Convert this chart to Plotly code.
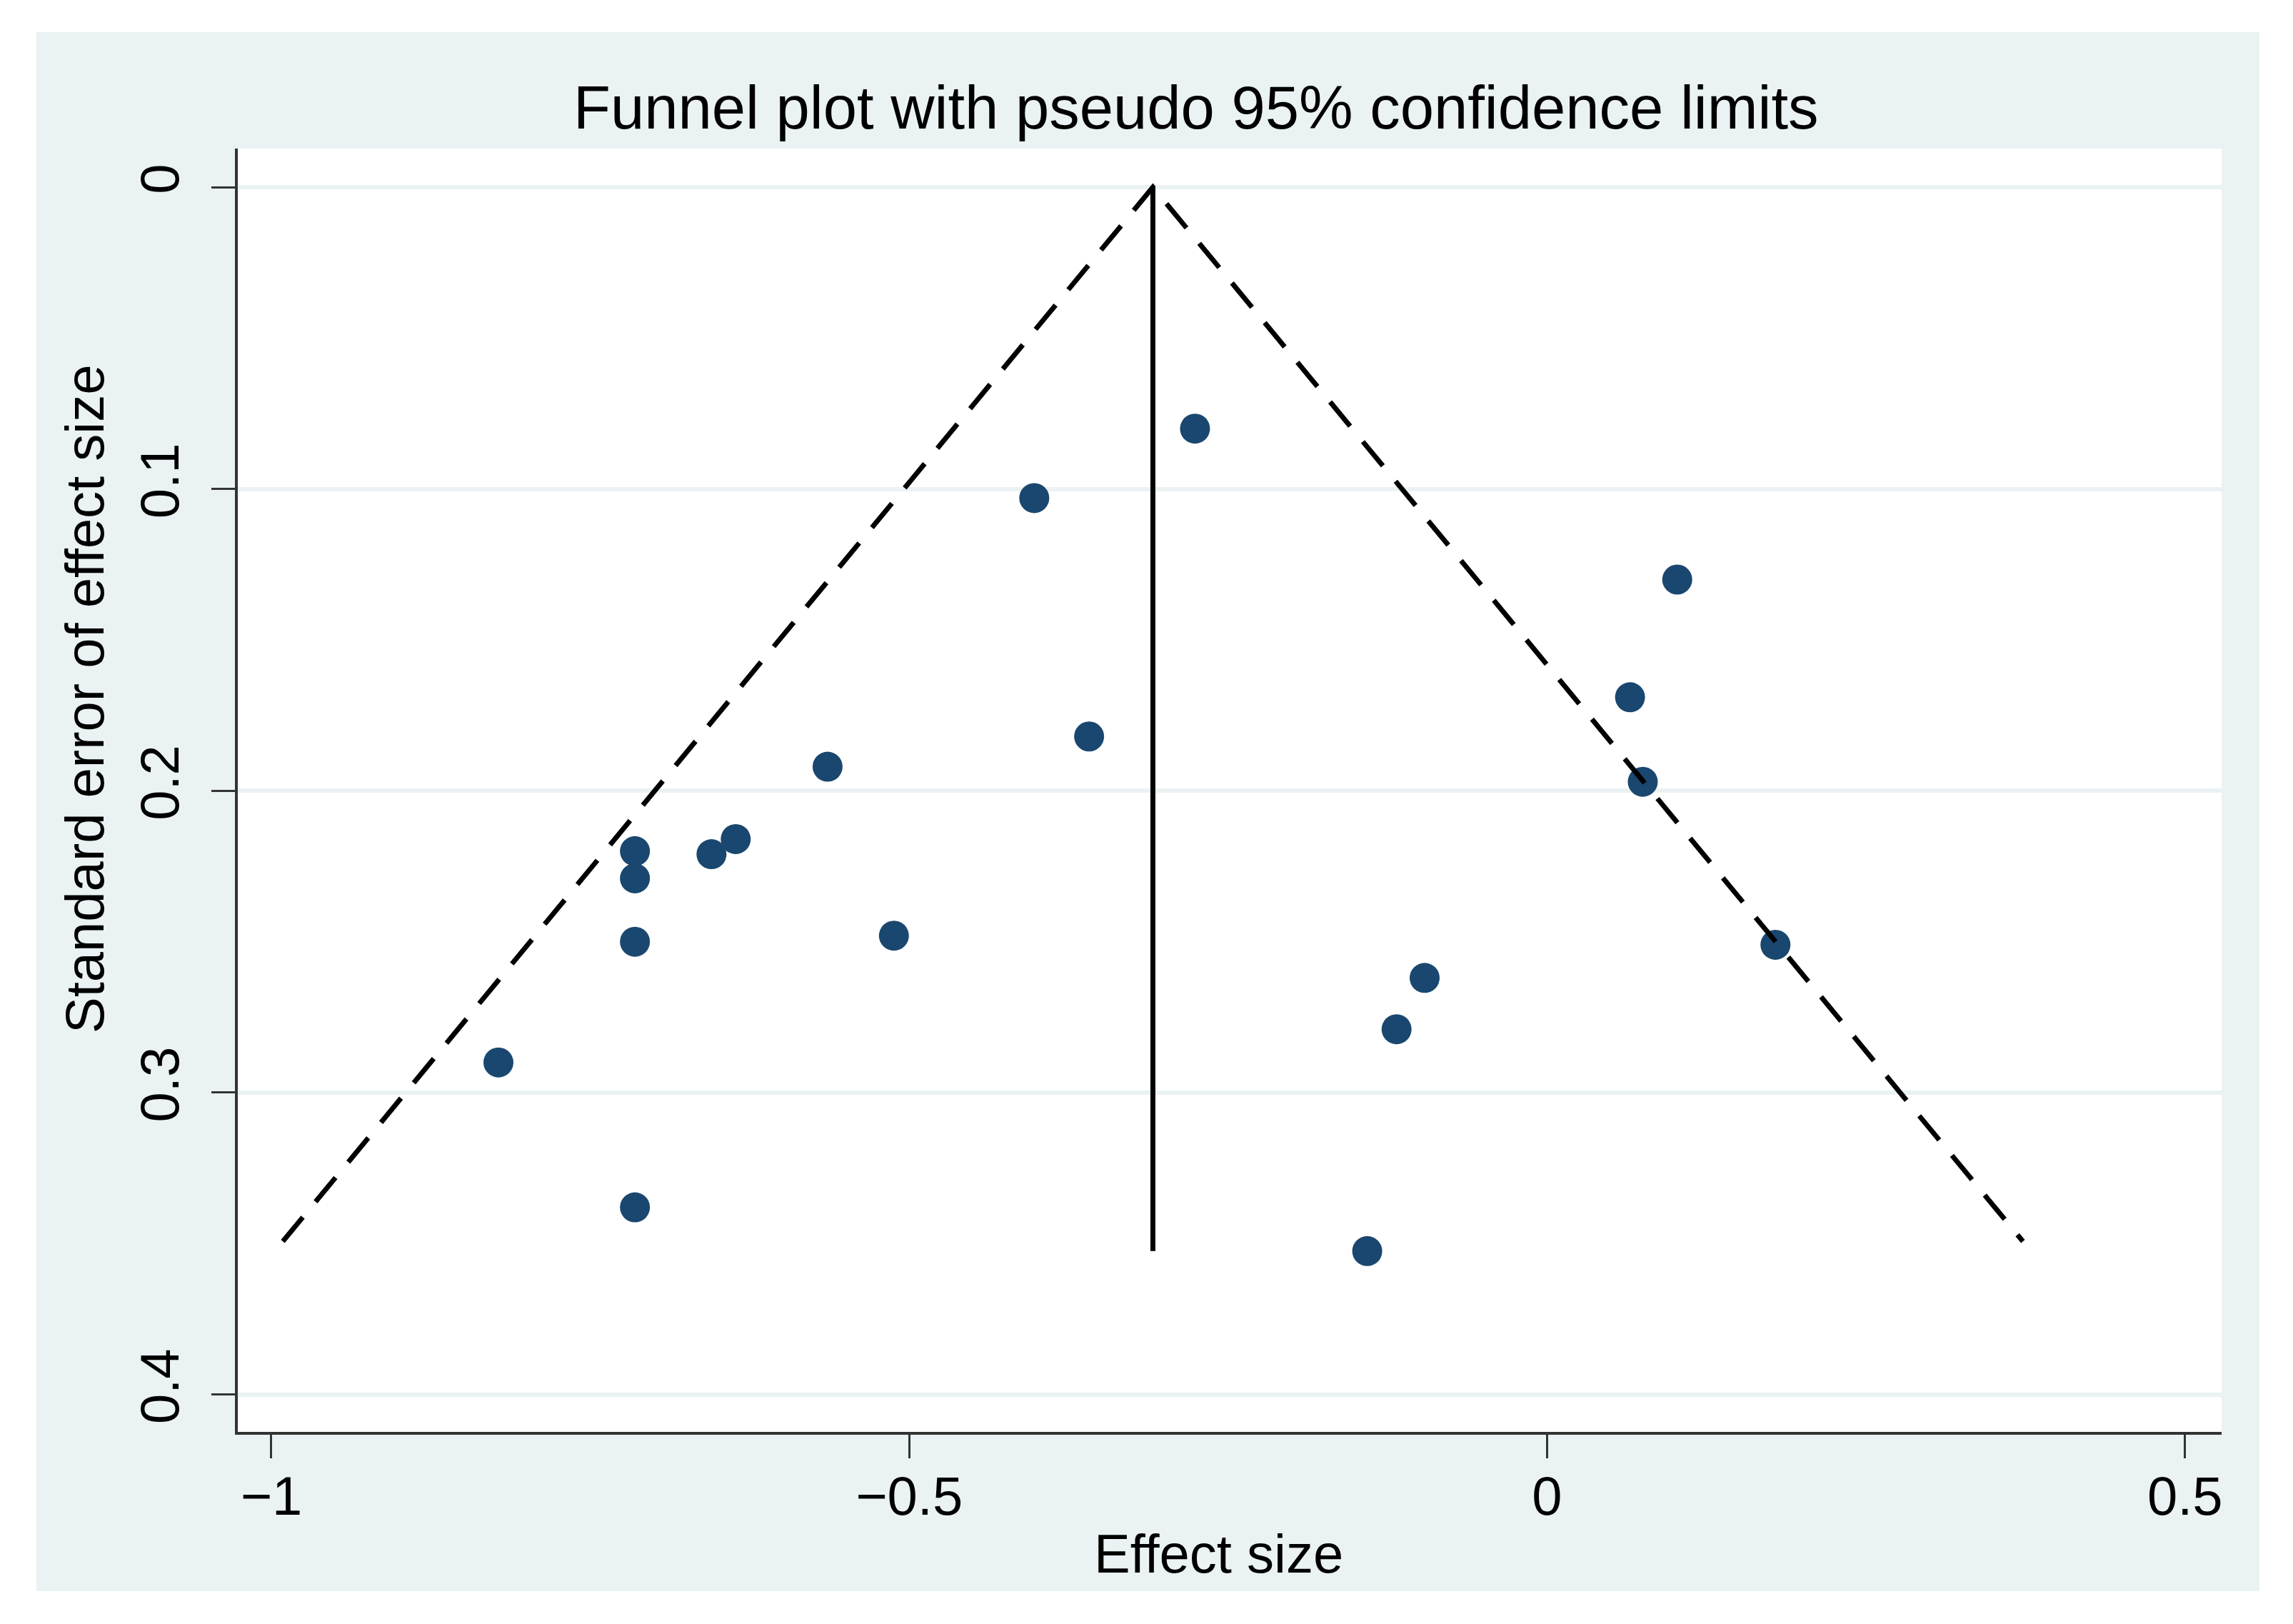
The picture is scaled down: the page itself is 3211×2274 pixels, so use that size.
import plotly.graph_objects as go

# ---- data ----
effect_size = [-0.276, -0.402, 0.102, 0.065, -0.359, -0.564, 0.075, -0.715, -0.636,
               -0.655, -0.715, -0.715, -0.512, 0.179, -0.096, -0.118, -0.822, -0.715, -0.141]
std_error = [0.080, 0.103, 0.130, 0.169, 0.182, 0.192, 0.197, 0.220, 0.216,
             0.221, 0.229, 0.250, 0.248, 0.251, 0.262, 0.279, 0.290, 0.338, 0.3525]

pooled_effect = -0.309
pooled_line_se = [0.0, 0.3525]
funnel_x = [-0.991, -0.309, 0.373]
funnel_se = [0.3493, 0.0, 0.3493]

x_ticks = [-1, -0.5, 0, 0.5]
x_ticklabels = ["\u22121", "\u22120.5", "0", "0.5"]
y_ticks = [0, 0.1, 0.2, 0.3, 0.4]
y_ticklabels = ["0", "0.1", "0.2", "0.3", "0.4"]

title_text = "Funnel plot with pseudo 95% confidence limits"
x_title = "Effect size"
y_title = "Standard error of effect size"

# ---- styling ----
FONT = "Liberation Sans, Arial, sans-serif"
BG = "#EAF2F3"
NAVY = "#1A476F"
AXIS = "#333333"

OFF = 8  # default body margin of the html page
W, H = 3211 - OFF, 2274 - OFF
L, R, T, B = 333 - OFF, 100, 208 - OFF, 269

fig = go.Figure()

fig.add_trace(go.Scatter(
    x=effect_size, y=std_error, mode="markers",
    marker=dict(color=NAVY, size=42, line=dict(width=0)),
    showlegend=False, hoverinfo="x+y"))

fig.add_trace(go.Scatter(
    x=[pooled_effect, pooled_effect], y=pooled_line_se, mode="lines",
    line=dict(color="black", width=7), showlegend=False))

fig.add_trace(go.Scatter(
    x=funnel_x, y=funnel_se, mode="lines",
    line=dict(color="black", width=7, dash="44px,28px"), showlegend=False))

# page pixel -> paper coordinate
def px_x(p):
    return (p - OFF - L) / (W - L - R)

def px_y(p):
    return (H - B - (p - OFF)) / (H - B - T)

shapes = []
# white frame outside the grey graph region
for x0, x1, y0, y1 in [
    (-1, px_x(51), -1, 2),
    (px_x(3164), 2, -1, 2),
    (-1, 2, px_y(45), 2),
    (-1, 2, -1, px_y(2228)),
]:
    shapes.append(dict(type="rect", xref="paper", yref="paper",
                       x0=x0, x1=x1, y0=y0, y1=y1,
                       fillcolor="white", line=dict(width=0), layer="below"))

annotations = [
    dict(text=title_text, xref="paper", yref="paper", x=px_x(1675), y=px_y(150),
         xanchor="center", yanchor="middle", showarrow=False,
         font=dict(family=FONT, size=85, color="black")),
    dict(text=x_title, xref="paper", yref="paper", x=px_x(1706), y=px_y(2175),
         xanchor="center", yanchor="middle", showarrow=False,
         font=dict(family=FONT, size=76, color="black")),
    dict(text=y_title, xref="paper", yref="paper", x=px_x(119), y=px_y(979),
         xanchor="center", yanchor="middle", showarrow=False, textangle=-90,
         font=dict(family=FONT, size=76, color="black")),
]

fig.update_layout(
    width=W, height=H,
    margin=dict(l=L, r=R, t=T, b=B, pad=0),
    paper_bgcolor=BG, plot_bgcolor="white",
    font=dict(family=FONT, color="black"),
    shapes=shapes, annotations=annotations,
    showlegend=False,
)

fig.update_xaxes(
    range=[-1.0263, 0.5287], autorange=False,
    tickmode="array", tickvals=x_ticks, ticktext=x_ticklabels,
    showgrid=False, zeroline=False,
    showline=True, linecolor=AXIS, linewidth=4, mirror=False,
    ticks="outside", ticklen=33, tickwidth=3, tickcolor=AXIS,
    tickfont=dict(family=FONT, size=76, color="black"),
    ticklabelstandoff=-12,
)

fig.update_yaxes(
    range=[0.4124, -0.0128], autorange=False,
    tickmode="array", tickvals=y_ticks, ticktext=y_ticklabels, tickangle=-90,
    showgrid=True, gridcolor=BG, gridwidth=6, zeroline=False,
    showline=True, linecolor=AXIS, linewidth=4, mirror=False,
    ticks="outside", ticklen=33, tickwidth=3, tickcolor=AXIS,
    tickfont=dict(family=FONT, size=76, color="black"),
    ticklabelstandoff=16,
)

fig.write_html("out.html")
